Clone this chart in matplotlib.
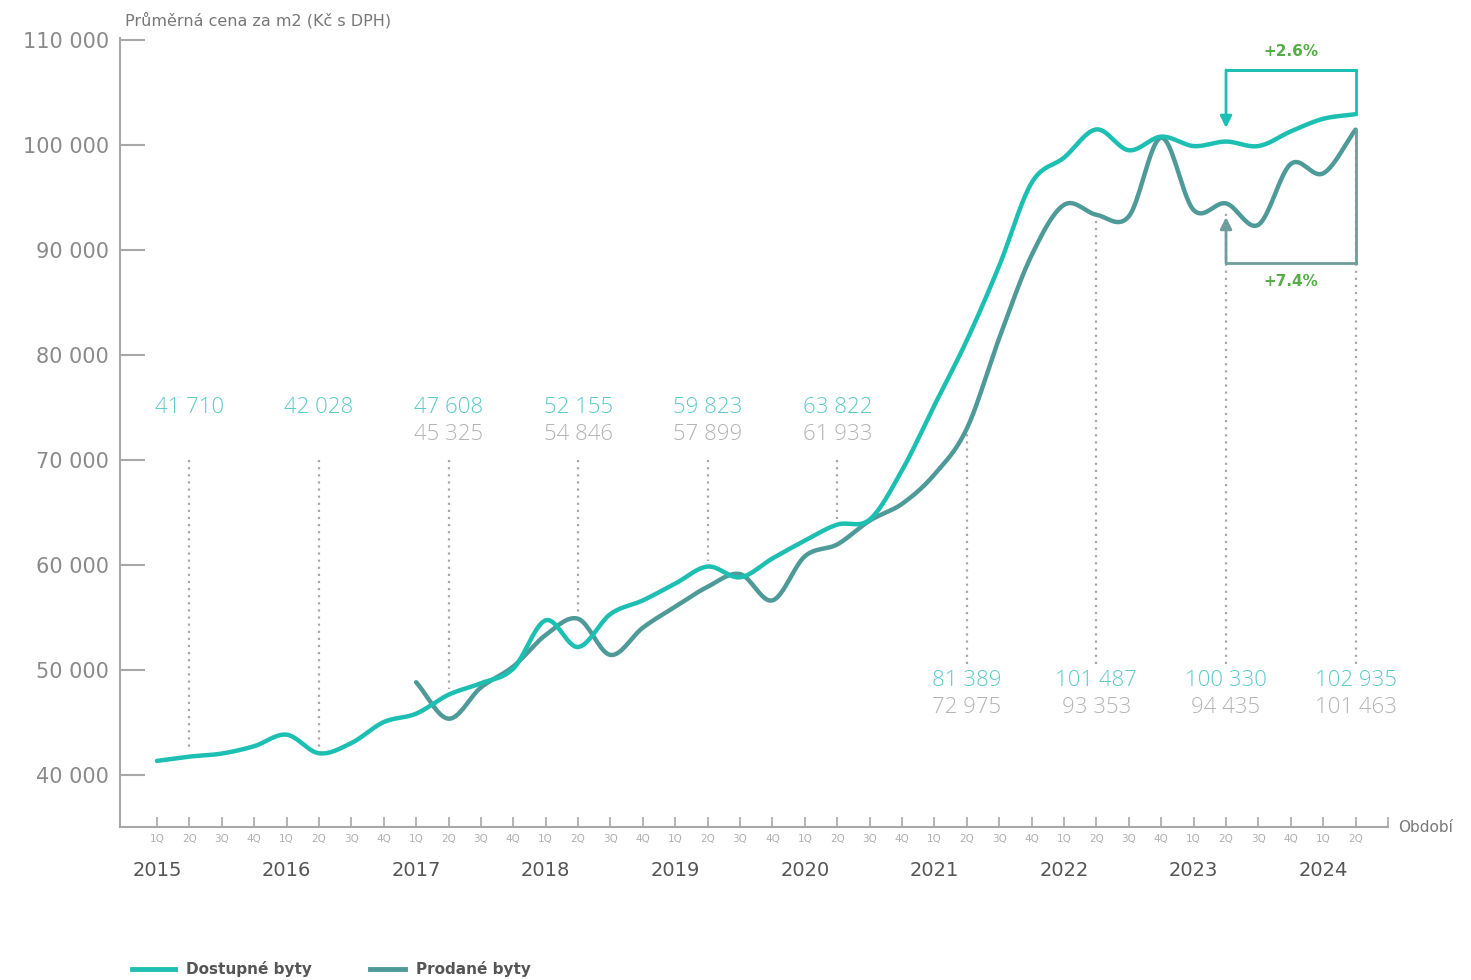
import numpy as np
import matplotlib.pyplot as plt
from matplotlib.lines import Line2D

# Průměrná cena bytů za m2 (Kč s DPH), čtvrtletně 1Q 2015 – 2Q 2024
years = list(range(2015, 2025))
quarters = ["1Q", "2Q", "3Q", "4Q"] * 9 + ["1Q", "2Q"]

dostupne = [41300, 41710, 42000, 42700, 43800, 42028, 43000, 45000,
            45800, 47608, 48700, 50100, 54700, 52155, 55300, 56600,
            58200, 59823, 58800, 60600, 62300, 63822, 64300, 69000,
            75200, 81389, 88500, 96400, 98800, 101487, 99500, 100800,
            99900, 100330, 99900, 101300, 102500, 102935]

prodane = [None] * 8 + [
            48800, 45325, 48300, 50300, 53300, 54846, 51400, 54000,
            56000, 57899, 59100, 56600, 60800, 61933, 64200, 65800,
            68600, 72975, 81600, 89500, 94300, 93353, 93200, 100700,
            93800, 94435, 92400, 98200, 97300, 101463]

label_top = [1, 5, 9, 13, 17, 21]        # popisky nad křivkami
label_bottom = [25, 29, 33, 37]          # popisky pod křivkami
cmp_from, cmp_to = 33, 37                # meziroční srovnání 2Q 2023 -> 2Q 2024

C_DOST = "#1dbfb2"
C_PROD = "#4e9a98"
C_DOST_TXT = "#5ccacb"
C_PROD_TXT = "#b3b3b3"
C_AXIS = "#a8a8a8"
C_GREEN = "#55ad48"
FONT = "Open Sans"


def catmull_rom(xs, ys, n=20):
    pts = np.column_stack([xs, ys]).astype(float)
    p = np.vstack([2 * pts[0] - pts[1], pts, 2 * pts[-1] - pts[-2]])
    t = np.linspace(0, 1, n, endpoint=False)[:, None]
    out = []
    for i in range(1, len(p) - 2):
        p0, p1, p2, p3 = p[i - 1], p[i], p[i + 1], p[i + 2]
        seg = 0.5 * (2 * p1 + (-p0 + p2) * t
                     + (2 * p0 - 5 * p1 + 4 * p2 - p3) * t ** 2
                     + (-p0 + 3 * p1 - 3 * p2 + p3) * t ** 3)
        out.append(seg)
    out.append(pts[-1:])
    s = np.vstack(out)
    return s[:, 0], s[:, 1]


fig = plt.figure(figsize=(14.71, 9.8), dpi=100)
fig.patch.set_facecolor("white")
ax = fig.add_axes([120 / 1471, 153 / 980, 1268 / 1471, 789 / 980])
ax.set_xlim(-1.14, 38.0)
ax.set_ylim(35000, 110200)

# křivky
x_d = np.arange(len(dostupne))
sx, sy = catmull_rom(x_d, dostupne)
ax.plot(sx, sy, color=C_DOST, lw=3.2, solid_capstyle="round", zorder=4)

idx_p = [i for i, v in enumerate(prodane) if v is not None]
val_p = [prodane[i] for i in idx_p]
sx, sy = catmull_rom(idx_p, val_p)
ax.plot(sx, sy, color=C_PROD, lw=3.2, solid_capstyle="round", zorder=3)


def fmt(v):
    return f"{v:,}".replace(",", " ")


# popisky hodnot nad křivkami s tečkovanou vodicí čarou
for i in label_top:
    top = max(v for v in (dostupne[i], prodane[i]) if v is not None)
    ax.plot([i, i], [70000, top + 500], color=C_AXIS, lw=1.6,
            ls=(0, (1, 2.2)), zorder=1)
    ax.text(i, 75000, fmt(dostupne[i]), ha="center", va="center",
            fontsize=16, color=C_DOST_TXT, family=FONT, fontweight="light")
    if prodane[i] is not None:
        ax.text(i, 72400, fmt(prodane[i]), ha="center", va="center",
                fontsize=16, color=C_PROD_TXT, family=FONT, fontweight="light")

# popisky hodnot pod křivkami
for i in label_bottom:
    low = min(dostupne[i], prodane[i])
    ax.plot([i, i], [50500, low - 500], color=C_AXIS, lw=1.6,
            ls=(0, (1, 2.2)), zorder=1)
    ax.text(i, 48950, fmt(dostupne[i]), ha="center", va="center",
            fontsize=16, color=C_DOST_TXT, family=FONT, fontweight="light")
    ax.text(i, 46400, fmt(prodane[i]), ha="center", va="center",
            fontsize=16, color=C_PROD_TXT, family=FONT, fontweight="light")

# srovnání 2Q 2023 -> 2Q 2024
pct_d = (dostupne[cmp_to] / dostupne[cmp_from] - 1) * 100
pct_p = (prodane[cmp_to] / prodane[cmp_from] - 1) * 100
mid = (cmp_from + cmp_to) / 2

yb = 107150
ax.plot([cmp_to, cmp_from], [dostupne[cmp_to], yb], color=C_DOST, lw=2, zorder=5,
        drawstyle="steps-pre")
ax.plot([cmp_from, cmp_to], [yb, yb], color=C_DOST, lw=2, zorder=5)
ax.annotate("", xy=(cmp_from, dostupne[cmp_from] + 1300), xytext=(cmp_from, yb),
            arrowprops=dict(arrowstyle="-|>,head_length=0.7,head_width=0.35",
                            color=C_DOST, lw=2, shrinkA=0, shrinkB=0), zorder=5)
ax.text(mid, 108900, f"+{pct_d:.1f}%", ha="center", va="center",
        fontsize=11, color=C_GREEN, fontweight="bold")

yb2 = 88750
C_BR2 = "#6e9d9b"
ax.plot([cmp_to, cmp_to], [yb2, prodane[cmp_to]], color=C_BR2, lw=2, zorder=5)
ax.plot([cmp_from, cmp_to], [yb2, yb2], color=C_BR2, lw=2, zorder=5)
ax.annotate("", xy=(cmp_from, prodane[cmp_from] - 1300), xytext=(cmp_from, yb2),
            arrowprops=dict(arrowstyle="-|>,head_length=0.7,head_width=0.35",
                            color=C_BR2, lw=2, shrinkA=0, shrinkB=0), zorder=5)
ax.text(mid, 86950, f"+{pct_p:.1f}%", ha="center", va="center",
        fontsize=11, color=C_GREEN, fontweight="bold")

# osy
for s in ("top", "right"):
    ax.spines[s].set_visible(False)
for s in ("left", "bottom"):
    ax.spines[s].set_color(C_AXIS)
    ax.spines[s].set_linewidth(1.5)

yt = list(range(40000, 110001, 10000))
ax.set_yticks(yt)
ax.set_yticklabels([fmt(v) for v in yt])
ax.tick_params(axis="y", direction="in", length=18, width=1.5, color=C_AXIS,
               labelsize=15, labelcolor="#8a8a8a", pad=8)

ax.set_xticks(range(len(quarters) + 1))
ax.set_xticklabels(quarters + [""])
ax.tick_params(axis="x", direction="in", length=7, width=1.2, color=C_AXIS,
               labelsize=7.5, labelcolor="#b0b0b0", pad=5)

for k, yr in enumerate(years):
    ax.text(k * 4, -0.055, str(yr), transform=ax.get_xaxis_transform(),
            ha="center", va="center", fontsize=14, color="#555555")

ax.text(38.3, 0, "Období", transform=ax.get_xaxis_transform(),
        ha="left", va="center", fontsize=11, color="#777777")
fig.text(125 / 1471, 1 - 20 / 980, "Průměrná cena za m2 (Kč s DPH)",
         ha="left", va="center", fontsize=11.5, color="#777777")

# legenda
ly = 1 - 969 / 980
fig.add_artist(Line2D([132 / 1471, 175 / 1471], [ly, ly], color=C_DOST, lw=3.5))
fig.text(186 / 1471, ly, "Dostupné byty", ha="left", va="center",
         fontsize=11, color="#555555", fontweight="semibold")
fig.add_artist(Line2D([370 / 1471, 405 / 1471], [ly, ly], color=C_PROD, lw=3.5))
fig.text(416 / 1471, ly, "Prodané byty", ha="left", va="center",
         fontsize=11, color="#555555", fontweight="semibold")

fig.savefig("out.png", dpi=100, facecolor="white")
